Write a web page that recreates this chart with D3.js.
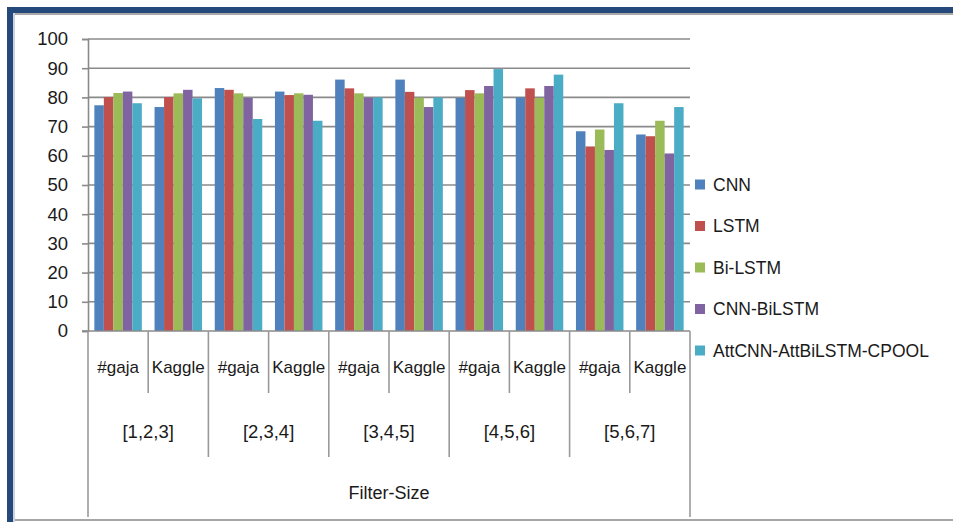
<!DOCTYPE html>
<html>
<head>
<meta charset="utf-8">
<script src="https://cdn.jsdelivr.net/npm/d3@7"></script>
<style>
  html, body { margin: 0; padding: 0; background: #fff; }
  svg { display: block; }
  text { font-family: "Liberation Sans", Arial, sans-serif; fill: #1a1a1a; }
</style>
</head>
<body>
<svg id="chart" width="953" height="522"></svg>
<script>
// Accuracy (%) per filter-size setting and dataset
const filterSizes = ["[1,2,3]", "[2,3,4]", "[3,4,5]", "[4,5,6]", "[5,6,7]"];
const datasets = ["#gaja", "Kaggle"];
const seriesNames = ["CNN", "LSTM", "Bi-LSTM", "CNN-BiLSTM", "AttCNN-AttBiLSTM-CPOOL"];
const seriesColors = ["#4F81BD", "#C0504D", "#9BBB59", "#8064A2", "#4BACC6"];

// One value per (filter size, dataset) pair, in order
const cnn       = [77.3, 76.7, 83.2, 82.0, 86.1, 86.1, 79.8, 80.0, 68.4, 67.3];
const lstm      = [80.1, 80.1, 82.6, 80.8, 83.1, 81.9, 82.5, 83.1, 63.2, 66.7];
const biLstm    = [81.5, 81.4, 81.4, 81.4, 81.4, 79.9, 81.4, 79.8, 69.0, 72.0];
const cnnBiLstm = [82.0, 82.6, 79.8, 80.9, 79.9, 76.7, 83.9, 83.9, 62.0, 60.8];
const attCpool  = [78.0, 79.7, 72.6, 72.0, 80.0, 80.0, 89.7, 87.8, 78.0, 76.7];

const yTicks = [0, 10, 20, 30, 40, 50, 60, 70, 80, 90, 100];
const axisTitle = "Filter-Size";

const seriesValues = [cnn, lstm, biLstm, cnnBiLstm, attCpool];

// Flattened category list: each filter size split into the two datasets
const categories = [];
filterSizes.forEach((fs, gi) => datasets.forEach((ds, di) => {
  categories.push({ key: fs + "|" + ds, group: fs, dataset: ds, index: gi * datasets.length + di });
}));

const svg = d3.select("#chart");

// Frame
const frameBlue = "#24497a";
svg.append("rect").attr("x", 7).attr("y", 7).attr("width", 946).attr("height", 6).attr("fill", frameBlue);
svg.append("rect").attr("x", 7).attr("y", 7).attr("width", 6).attr("height", 515).attr("fill", frameBlue);
svg.append("rect").attr("x", 13).attr("y", 13).attr("width", 940).attr("height", 2).attr("fill", "#a9a9a9");
svg.append("rect").attr("x", 13).attr("y", 13).attr("width", 2).attr("height", 509).attr("fill", "#c9d2de");
svg.append("rect").attr("x", 15).attr("y", 519).attr("width", 938).attr("height", 2).attr("fill", "#a6a6a6");

const plotLeft = 88, plotRight = 690, plotTop = 39, plotBottom = 331;

const x = d3.scaleBand()
  .domain(categories.map(d => d.key))
  .range([plotLeft, plotRight])
  .paddingInner(0.211)
  .paddingOuter(0.1055);

const xInner = d3.scaleBand()
  .domain(seriesNames)
  .range([0, x.bandwidth()]);

const y = d3.scaleLinear().domain([0, 100]).range([plotBottom, plotTop]);

const gridColor = "#8a8a8a";

// Horizontal gridlines
svg.append("g")
  .selectAll("line")
  .data(yTicks.filter(t => t > 0))
  .join("line")
  .attr("x1", plotLeft).attr("x2", plotRight)
  .attr("y1", d => y(d)).attr("y2", d => y(d))
  .attr("stroke", gridColor).attr("stroke-width", 1.6);

// Y axis
const yAxis = svg.append("g")
  .attr("transform", `translate(${plotLeft},0)`)
  .call(d3.axisLeft(y).tickValues(yTicks).tickSize(6).tickPadding(14).tickFormat(d3.format("d")));
yAxis.select(".domain").attr("stroke", gridColor).attr("stroke-width", 1.6);
yAxis.selectAll(".tick line").attr("stroke", gridColor).attr("stroke-width", 1.6);
yAxis.selectAll(".tick text")
  .attr("font-size", 18.5)
  .attr("font-family", "'Liberation Sans', Arial, sans-serif")
  .attr("fill", "#1a1a1a");

// Bars
const barGroups = svg.append("g")
  .selectAll("g")
  .data(categories)
  .join("g")
  .attr("transform", d => `translate(${x(d.key)},0)`);

barGroups.selectAll("rect")
  .data(d => seriesNames.map((s, si) => ({ series: s, value: seriesValues[si][d.index], color: seriesColors[si] })))
  .join("rect")
  .attr("x", d => xInner(d.series))
  .attr("width", xInner.bandwidth())
  .attr("y", d => y(d.value))
  .attr("height", d => y(0) - y(d.value))
  .attr("fill", d => d.color);

// Category axis line
svg.append("line")
  .attr("x1", plotLeft - 6).attr("x2", plotRight)
  .attr("y1", plotBottom).attr("y2", plotBottom)
  .attr("stroke", gridColor).attr("stroke-width", 1.6);

// Multi-level category dividers
const step = x.step();
const boundaries = d3.range(categories.length + 1).map(i => ({ i, xPos: plotLeft + i * step }));
svg.append("g")
  .selectAll("line")
  .data(boundaries)
  .join("line")
  .attr("x1", d => d.xPos).attr("x2", d => d.xPos)
  .attr("y1", plotBottom)
  .attr("y2", d => (d.i === 0 || d.i === categories.length) ? 517
                 : (d.i % datasets.length === 0 ? 457 : 393))
  .attr("stroke", "#9a9a9a").attr("stroke-width", 1.6);

// Dataset labels
svg.append("g")
  .selectAll("text")
  .data(categories)
  .join("text")
  .attr("x", d => x(d.key) + x.bandwidth() / 2)
  .attr("y", 367)
  .attr("dy", "0.35em")
  .attr("text-anchor", "middle")
  .attr("font-size", 17)
  .text(d => d.dataset);

// Filter-size labels
svg.append("g")
  .selectAll("text")
  .data(filterSizes)
  .join("text")
  .attr("x", (d, i) => plotLeft + (i + 0.5) * step * datasets.length)
  .attr("y", 432)
  .attr("dy", "0.35em")
  .attr("text-anchor", "middle")
  .attr("font-size", 18.5)
  .text(d => d);

// Axis title
svg.append("text")
  .attr("x", (plotLeft + plotRight) / 2)
  .attr("y", 493)
  .attr("dy", "0.35em")
  .attr("text-anchor", "middle")
  .attr("font-size", 18)
  .text(axisTitle);

// Legend
const legend = svg.append("g")
  .selectAll("g")
  .data(seriesNames)
  .join("g")
  .attr("transform", (d, i) => `translate(695,${184.5 + i * 41.5})`);

legend.append("rect")
  .attr("x", 0).attr("y", -5).attr("width", 10).attr("height", 10)
  .attr("fill", (d, i) => seriesColors[i]);

legend.append("text")
  .attr("x", 18)
  .attr("y", 0)
  .attr("dy", "0.35em")
  .attr("font-size", 17.5)
  .text(d => d);
</script>
</body>
</html>
